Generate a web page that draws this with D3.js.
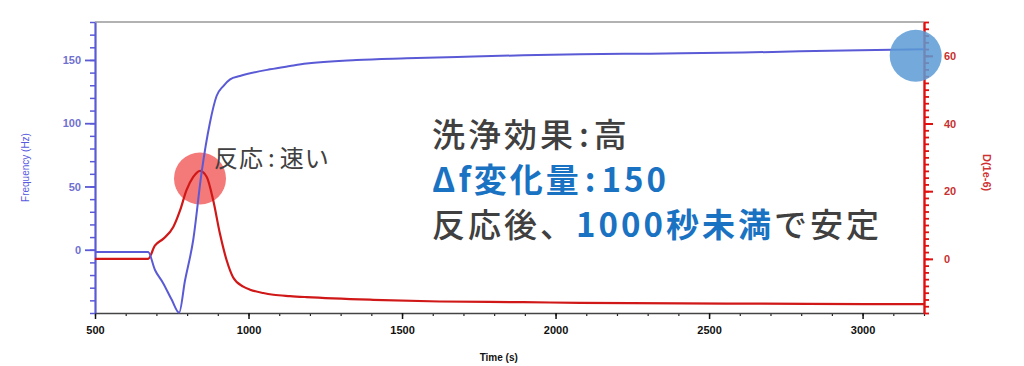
<!DOCTYPE html>
<html>
<head>
<meta charset="utf-8">
<script src="https://cdn.jsdelivr.net/npm/d3@7"></script>
<style>
  body { margin: 0; background: #fff; }
  svg { display: block; }
</style>
</head>
<body>
<script>
// frequency trace (Hz)
const timeF = [500, 600, 673, 695, 722, 750, 774, 793, 820, 847, 874, 896, 918, 940, 972, 1070, 1135, 1189, 1352, 1515, 1732, 1895, 2079, 2307, 2610, 2796, 2991, 3200];
const freq  = [-1.8, -1.8, -1.8, -15.8, -26.4, -39.6, -49.7, -24.5, 7.9, 60.8, 100, 121.5, 129.4, 134.7, 137.3, 142.6, 145.2, 147.2, 150, 151.3, 152.7, 153.7, 154.5, 155, 155.8, 156.9, 157.7, 158.5];

// dissipation trace (1e-6)
const timeD = [500, 600, 673, 695, 722, 755, 777, 798, 820, 842, 864, 885, 907, 929, 950, 983, 1005, 1048, 1081, 1135, 1189, 1406, 1623, 1895, 2079, 2556, 3187, 3200];
const diss  = [0, 0, 0, 3.9, 5.9, 9.4, 14.3, 20.3, 24.2, 26, 24.2, 17.3, 7.4, -0.5, -5.5, -8.2, -9.1, -10.1, -10.6, -11.0, -11.3, -12.1, -12.6, -12.8, -13, -13.2, -13.4, -13.4];

const xTicks = [500, 1000, 1500, 2000, 2500, 3000];
const fTicks = [0, 50, 100, 150];
const dTicks = [0, 20, 40, 60];

let width = 1024, height = 366;
let margin = { top: 22, bottom: 53, left: 95, right: 100 };

let svg = d3.select('body')
  .append('svg')
  .attr('width', width)
  .attr('height', height)
  .style('font-family', 'Arial, "Liberation Sans", sans-serif');

let xScale = d3.scaleLinear()
  .domain([500, 3200])
  .range([margin.left, width - margin.right]);

let yF = d3.scaleLinear()
  .domain([-50, 180])
  .range([height - margin.bottom, margin.top]);

let yD = d3.scaleLinear()
  .domain([-16, 70])
  .range([height - margin.bottom, margin.top]);

const blue = '#5a5ad6', red = '#d01818';

// top frame line
svg.append('line')
  .attr('x1', margin.left).attr('x2', width - margin.right)
  .attr('y1', margin.top).attr('y2', margin.top)
  .attr('stroke', '#666').attr('stroke-width', 1.2);

// red highlight circle (below lines)
svg.append('circle')
  .attr('cx', xScale(842)).attr('cy', yF(56.3))
  .attr('r', 26)
  .attr('fill', '#f36a6a')
  .attr('opacity', 0.9);

// x axis: minor then major
svg.append('g')
  .attr('transform', `translate(0, ${height - margin.bottom})`)
  .call(d3.axisBottom(xScale).tickValues(d3.range(500, 3201, 100)).tickSize(3).tickFormat(''))
  .call(g => g.select('.domain').remove())
  .selectAll('line').attr('stroke', '#222').attr('stroke-width', 1.2);

let xAxis = svg.append('g')
  .attr('transform', `translate(0, ${height - margin.bottom})`)
  .call(d3.axisBottom(xScale).tickValues(xTicks).tickSize(6).tickSizeOuter(0).tickFormat(d3.format('d')));
xAxis.select('.domain').attr('stroke', '#444').attr('stroke-width', 1.5);
xAxis.selectAll('line').attr('stroke', '#111').attr('stroke-width', 1.5);
xAxis.selectAll('text')
  .attr('dy', '1.1em')
  .style('font-size', '11px')
  .style('font-weight', 'bold')
  .attr('fill', '#111');

// left axis (frequency)
svg.append('g')
  .attr('transform', `translate(${margin.left}, 0)`)
  .call(d3.axisLeft(yF).tickValues(d3.range(-50, 181, 10)).tickSize(5).tickFormat(''))
  .call(g => g.select('.domain').remove())
  .selectAll('line').attr('stroke', blue).attr('stroke-width', 1.5);

let fAxis = svg.append('g')
  .attr('transform', `translate(${margin.left}, 0)`)
  .call(d3.axisLeft(yF).tickValues(fTicks).tickSize(10).tickSizeOuter(0));
fAxis.select('.domain').attr('stroke', blue).attr('stroke-width', 2.2);
fAxis.selectAll('line').attr('stroke', blue).attr('stroke-width', 1.8);
fAxis.selectAll('text')
  .attr('x', -14)
  .style('font-size', '11px')
  .style('font-weight', 'bold')
  .attr('fill', '#7070d0');

// right axis (dissipation)
svg.append('g')
  .attr('transform', `translate(${width - margin.right}, 0)`)
  .call(d3.axisRight(yD).tickValues(d3.range(-16, 71, 2)).tickSize(5).tickFormat(''))
  .call(g => g.select('.domain').remove())
  .selectAll('line').attr('stroke', '#e01010').attr('stroke-width', 1.8);

let dAxis = svg.append('g')
  .attr('transform', `translate(${width - margin.right}, 0)`)
  .call(d3.axisRight(yD).tickValues(dTicks).tickSize(9).tickSizeOuter(0));
dAxis.select('.domain').attr('stroke', '#e01010').attr('stroke-width', 2.4);
dAxis.selectAll('line').attr('stroke', '#e01010').attr('stroke-width', 2);
dAxis.selectAll('text')
  .attr('x', 20)
  .style('font-size', '11px')
  .style('font-weight', 'bold')
  .attr('fill', '#c83030');

// axis titles
svg.append('text')
  .attr('x', xScale(1815)).attr('y', 361)
  .attr('text-anchor', 'middle')
  .style('font-size', '10px').style('font-weight', 'bold')
  .attr('fill', '#111')
  .text('Time (s)');

svg.append('text')
  .attr('transform', `translate(29, ${yF(65)}) rotate(-90)`)
  .attr('text-anchor', 'middle')
  .style('font-size', '10px')
  .attr('fill', '#5a5ae0')
  .text('Frequency (Hz)');

svg.append('text')
  .attr('transform', `translate(983, ${yD(25.5)}) rotate(90)`)
  .attr('text-anchor', 'middle')
  .style('font-size', '11px').style('font-weight', 'bold')
  .attr('fill', '#d03030')
  .text('D(1e-6)');

// traces
let lineF = d3.line()
  .x((d, i) => xScale(timeF[i]))
  .y(d => yF(d))
  .curve(d3.curveMonotoneX);

let lineD = d3.line()
  .x((d, i) => xScale(timeD[i]))
  .y(d => yD(d))
  .curve(d3.curveMonotoneX);

svg.append('path')
  .attr('fill', 'none')
  .attr('stroke', red)
  .attr('stroke-width', 2.2)
  .attr('d', lineD(diss));

svg.append('path')
  .attr('fill', 'none')
  .attr('stroke', blue)
  .attr('stroke-width', 2)
  .attr('d', lineF(freq));

// blue highlight circle (over the axis)
svg.append('circle')
  .attr('cx', xScale(3173)).attr('cy', yF(153.4))
  .attr('r', 26)
  .attr('fill', '#5b9bd5')
  .attr('opacity', 0.85);

// annotations
const jp = '"Noto Sans CJK JP", sans-serif';
const gray = '#404040', accent = '#1a72c2';

let fast = svg.append('text')
  .attr('x', 214).attr('y', 167)
  .style('font-family', jp)
  .style('font-size', '24px')
  .style('letter-spacing', '1px')
  .attr('fill', gray);
fast.append('tspan').text('反応');
fast.append('tspan').attr('dx', 4).text(':');
fast.append('tspan').attr('dx', 4).text('速い');

let block = svg.append('g')
  .style('font-family', jp)
  .style('font-size', '33px')
  .style('letter-spacing', '3px');

let l1 = block.append('text')
  .attr('x', 432).attr('y', 147)
  .attr('fill', gray)
  .style('font-weight', 500);
l1.append('tspan').text('洗浄効果');
l1.append('tspan').attr('dx', 3).text(':');
l1.append('tspan').attr('dx', 2).text('高');

let l2 = block.append('text')
  .attr('x', 432).attr('y', 192)
  .attr('fill', accent)
  .style('font-weight', 'bold');
l2.append('tspan').text('Δf変化量');
l2.append('tspan').attr('dx', 3).text(':');
l2.append('tspan').attr('dx', 3).text('150');

let l3 = block.append('text')
  .attr('x', 432).attr('y', 237)
  .style('font-weight', 500);
l3.append('tspan').attr('fill', gray).text('反応後、');
l3.append('tspan').attr('fill', accent).style('font-weight', 'bold').text('1000秒未満');
l3.append('tspan').attr('fill', gray).text('で安定');
</script>
</body>
</html>
